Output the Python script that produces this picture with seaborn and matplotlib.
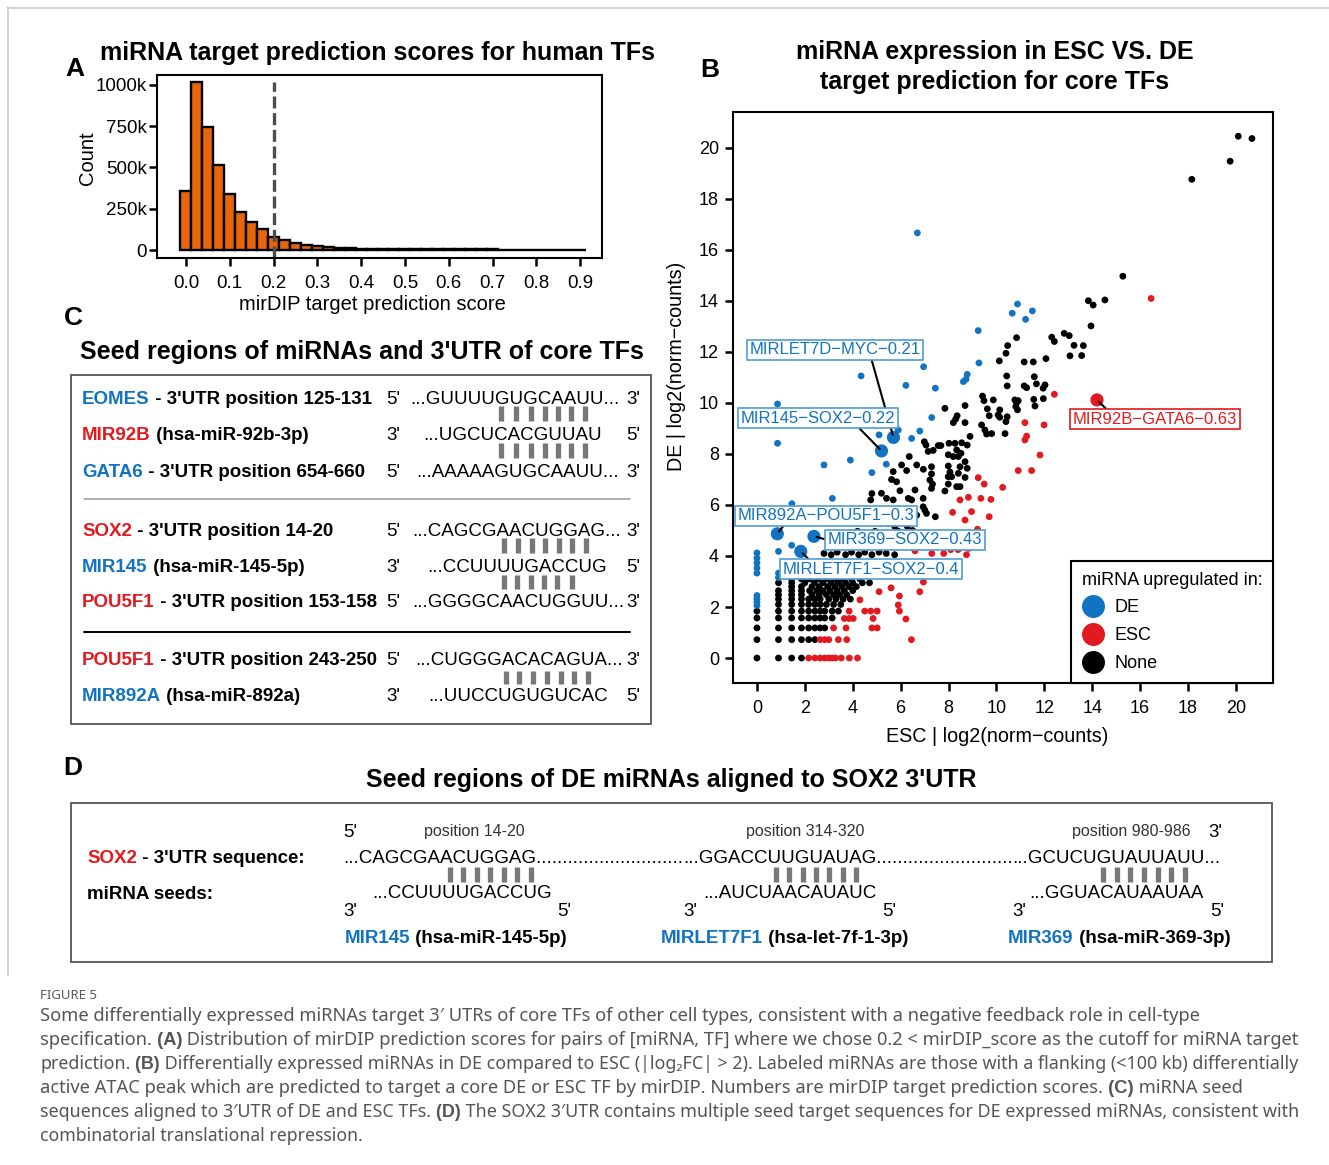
"""
Figure 5 redrawn on one canvas.

Panels:
1. A - histogram of mirDIP target prediction scores
2. B - miRNA expression, ESC vs DE, coloured by where the miRNA is up
3. C/D - seed alignments written as text
4. Caption below the panels
"""

import numpy as np
import pandas as pd
import matplotlib
matplotlib.use("Agg")
import matplotlib.pyplot as plt
from matplotlib.lines import Line2D
from matplotlib.patches import Rectangle
import seaborn as sns

# Canvas size in pixels (saved at dpi 100)
W, H = 1329, 1165

BLUE = "#1273C3"
BLUE_EDGE = "#4F9DD8"
RED = "#E2191E"
ORANGE = "#E8650A"
FONT = ["Liberation Sans", "DejaVu Sans"]
CAPTION_FONT = ["Noto Sans", "DejaVu Sans"]
CAPTION_BOLD_FONT = ["Liberation Sans Narrow", "Liberation Sans", "DejaVu Sans"]

# ---------------------------------------------------------------------------
# Panel A: mirDIP score distribution (bin centres, counts in thousands)
SCORE_BINS = [0.000, 0.025, 0.050, 0.075, 0.100, 0.125, 0.150, 0.175, 0.200,
              0.225, 0.250, 0.275, 0.300, 0.325, 0.350, 0.375, 0.400, 0.425,
              0.450, 0.475, 0.500, 0.525, 0.550, 0.575, 0.600, 0.625, 0.650,
              0.675, 0.700, 0.725, 0.750, 0.775, 0.800, 0.825, 0.850, 0.875,
              0.900]
SCORE_COUNTS_K = [355, 1020, 745, 515, 338, 232, 172, 128, 82, 58, 42, 30, 22,
                  17, 13, 10, 8, 7, 6, 6, 5, 5, 5, 4, 4, 4, 4, 4, 4, 3, 3, 2,
                  2, 2, 2, 1, 1]
SCORE_CUTOFF = 0.2
A_XTICKS = [0.0, 0.1, 0.2, 0.3, 0.4, 0.5, 0.6, 0.7, 0.8, 0.9]
A_YTICKS = [0, 250000, 500000, 750000, 1000000]
A_YTICK_LABELS = ["0", "250k", "500k", "750k", "1000k"]

# ---------------------------------------------------------------------------
# Panel B: (ESC, DE) log2 normalised counts for each miRNA
DE_UP = [
    (0, 4.12), (0, 3.92), (0, 3.73), (0, 3.53), (0, 3.33), (0, 2.45),
    (0, 2.32), (0, 2.19), (0, 2.06), (0.9, 4.18), (0.9, 3.33), (0.9, 3.15),
    (1.45, 4.42), (1.46, 6.05), (0.86, 8.42), (0.86, 9.96), (2.8, 7.57),
    (3.9, 7.76), (4.8, 7.27), (3.15, 6.26), (5.4, 7.6), (5.1, 8.75),
    (5.9, 8.94), (6.46, 8.61), (6.8, 8.9), (7.3, 9.43), (6.22, 10.69),
    (7.45, 10.58), (6.96, 11.42), (4.35, 11.06), (9.27, 11.57),
    (8.78, 11.12), (8.73, 10.93), (8.62, 10.84), (9.24, 12.84),
    (10.88, 13.88), (10.66, 13.52), (11.5, 13.61), (11.22, 13.28),
    (6.7, 16.67),
]
ESC_UP = [
    (2.16, 0), (2.42, 0), (2.64, 0), (2.83, 0), (3.0, 0), (3.14, 0),
    (3.28, 0), (3.52, 0), (3.86, 0), (4.2, 0),
    (2.64, 0.72), (2.83, 0.72), (3.0, 0.72), (3.4, 0.72), (3.75, 0.72),
    (6.45, 0.72), (3.2, 1.18), (3.72, 1.18), (4.8, 1.18), (5.02, 1.18),
    (3.65, 1.55), (3.85, 1.55), (4.02, 1.55), (4.85, 1.55), (6.22, 1.53),
    (3.85, 1.84), (4.5, 1.84), (4.75, 1.84), (5.02, 1.84), (5.95, 1.84),
    (4.3, 2.28), (5.9, 2.08), (5.1, 2.6), (5.6, 2.75), (5.95, 2.43),
    (6.8, 2.6), (6.95, 2.98), (6.6, 4.2), (7.3, 4.1), (7.8, 4.1),
    (8.1, 4.25), (8.4, 4.25), (8.75, 4.05), (8.85, 4.3), (8.17, 5.71),
    (8.96, 5.74), (8.69, 5.41), (9.7, 5.54), (9.21, 5.05), (8.48, 6.2),
    (8.83, 6.3), (9.35, 6.26), (9.77, 6.22), (9.24, 7.07), (9.49, 6.82),
    (10.26, 6.69), (10.91, 7.35), (11.47, 7.35), (11.82, 7.96),
    (11.26, 8.7), (11.19, 8.55), (11.19, 9.23), (11.99, 9.14),
    (12.42, 10.34), (16.46, 14.1),
]
NONE_LOW = [
    (0, 0), (0.9, 0), (1.45, 0), (1.86, 0),
    (0, 0.72), (0.9, 0.72), (1.45, 0.72), (1.86, 0.72), (2.16, 0.72),
    (2.42, 0.72),
    (0, 1.18), (0.9, 1.18), (1.45, 1.18), (1.86, 1.18), (2.16, 1.18),
    (2.42, 1.18), (2.64, 1.18), (2.83, 1.18),
    (0, 1.57), (0.9, 1.57), (1.45, 1.57), (1.86, 1.57), (2.16, 1.57),
    (2.42, 1.57), (2.64, 1.57), (2.83, 1.57), (3.14, 1.57),
    (0, 1.84), (0.9, 1.84), (1.45, 1.84), (1.86, 1.84), (2.16, 1.84),
    (2.42, 1.84), (2.64, 1.84), (2.83, 1.84), (3.14, 1.84), (3.4, 1.84),
    (0.9, 2.1), (1.45, 2.1), (1.86, 2.1), (2.16, 2.1), (2.42, 2.1),
    (2.64, 2.1), (2.9, 2.1), (3.2, 2.1), (3.5, 2.1),
    (0.9, 2.31), (1.45, 2.31), (1.86, 2.31), (2.16, 2.31), (2.42, 2.31),
    (2.64, 2.31), (3.0, 2.31), (3.3, 2.31), (3.6, 2.31), (3.9, 2.31),
    (0.9, 2.48), (1.45, 2.48), (1.86, 2.48), (2.3, 2.48), (2.6, 2.48),
    (2.9, 2.48), (3.2, 2.48), (3.45, 2.48), (3.75, 2.48),
    (0.9, 2.64), (1.45, 2.64), (1.86, 2.64), (2.2, 2.64), (2.5, 2.64),
    (2.75, 2.64), (3.05, 2.64), (3.35, 2.64), (3.65, 2.64), (4.0, 2.64),
    (1.45, 2.8), (1.86, 2.8), (2.3, 2.8), (2.6, 2.8), (2.95, 2.8),
    (3.25, 2.8), (3.55, 2.8), (3.85, 2.8), (4.15, 2.8),
    (0.9, 2.95), (1.45, 2.95), (2.0, 2.95), (2.4, 2.95), (2.75, 2.95),
    (3.1, 2.95), (3.4, 2.95), (3.7, 2.95), (4.0, 2.95), (4.4, 2.95),
    (4.7, 2.95),
    (1.45, 3.1), (1.86, 3.1), (2.2, 3.1), (2.55, 3.1), (2.9, 3.1),
    (3.3, 3.1), (3.6, 3.1), (3.95, 3.1), (4.3, 3.1),
    (1.45, 3.3), (1.86, 3.3), (2.3, 3.3), (2.7, 3.3), (3.05, 3.3),
    (3.45, 3.3), (3.85, 3.3),
    (1.45, 3.5), (2.0, 3.5), (2.5, 3.5), (2.9, 3.5), (3.3, 3.5),
    (3.7, 3.5), (4.1, 3.5),
    (2.8, 4.1), (3.1, 4.05), (3.35, 4.15), (3.7, 4.05), (3.95, 4.15),
    (4.25, 4.05), (4.5, 4.15), (4.8, 4.05), (5.1, 4.15), (5.4, 4.1), (5.75, 4.05),
]
NONE_MID = [
    (4.8, 6.45), (4.75, 6.2), (4.93, 5.41), (5.14, 5.28), (5.38, 5.42),
    (5.48, 5.28), (5.76, 5.15), (5.98, 5.36), (6.28, 5.16), (6.13, 4.9),
    (3.9, 4.9), (4.2, 4.97), (4.48, 4.84), (4.93, 4.97), (5.38, 4.77),
    (5.9, 4.97), (7.08, 5.67), (7.45, 5.54), (6.67, 5.6), (6.5, 5.0),
    (3.3, 4.6), (3.7, 4.55), (4.1, 4.5), (4.6, 4.55), (5.0, 4.6),
]
NONE_HIGH = [
    (13.84, 14.01), (14.04, 13.84), (14.53, 14.04), (13.95, 13.02),
    (12.31, 12.58), (12.42, 12.41), (12.83, 12.73), (13.04, 12.64),
    (10.84, 12.56), (10.47, 12.25), (10.4, 11.95), (10.12, 11.65),
    (11.16, 11.61), (11.54, 11.61), (12.07, 11.74), (13.24, 12.26),
    (13.63, 12.25), (13.07, 11.85), (13.56, 11.86), (10.43, 11.06),
    (11.58, 11.03), (10.45, 10.67), (11.16, 10.67), (11.26, 10.6),
    (11.67, 10.75), (11.95, 10.58), (12.03, 10.71), (9.42, 10.27),
    (9.48, 10.09), (9.87, 10.12), (10.77, 10.12), (10.91, 10.09),
    (10.84, 10.01), (11.56, 10.14), (11.61, 9.88), (11.96, 10.17),
    (8.69, 9.9), (9.62, 9.77), (10.14, 9.73), (10.07, 9.53), (10.14, 9.44),
    (10.81, 9.86), (10.88, 9.73), (10.45, 9.46), (10.4, 9.27), (9.7, 9.5),
    (8.36, 9.5), (8.3, 9.37), (8.2, 9.23), (7.85, 9.79), (8.69, 9.23),
    (9.38, 9.14), (9.52, 8.94), (9.59, 8.78), (9.8, 8.8), (10.36, 8.8),
    (8.9, 8.69), (8.55, 8.44), (6.99, 8.48), (7.06, 8.35), (7.57, 8.33),
    (7.68, 8.33), (8.02, 8.42), (8.27, 8.42), (8.34, 8.16), (8.52, 8.03),
    (8.41, 7.9), (8.69, 7.7), (8.78, 8.35), (7.99, 7.97), (8.2, 7.9),
    (7.15, 8.1), (7.36, 8.14), (6.36, 7.9), (6.67, 7.57), (6.04, 7.57),
    (5.69, 7.31), (6.25, 7.35), (6.95, 7.4), (7.29, 7.5), (7.29, 7.22),
    (7.22, 6.98), (7.33, 6.82), (7.29, 6.65), (7.99, 7.53), (8.06, 7.29),
    (8.48, 7.5), (8.78, 7.44), (7.99, 7.11), (8.13, 7.11), (8.41, 7.24),
    (8.69, 7.08), (7.99, 6.82), (8.34, 6.72), (8.48, 6.72), (7.85, 6.55),
    (5.62, 7.0), (5.83, 6.91), (5.97, 6.56), (6.6, 6.59), (5.2, 6.46),
    (5.41, 6.26), (5.69, 6.2), (6.32, 6.26), (6.46, 6.2), (6.94, 6.26),
    (6.94, 5.93), (7.01, 5.8), (15.28, 14.97), (18.16, 18.77),
    (19.76, 19.48), (20.1, 20.46), (20.67, 20.37),
]
LABEL_NAMES = ["MIRLET7D−MYC−0.21", "MIR145−SOX2−0.22", "MIR92B−GATA6−0.63",
               "MIR892A−POU5F1−0.3", "MIR369−SOX2−0.43", "MIRLET7F1−SOX2−0.4"]
LABEL_ESC = [5.7, 5.2, 14.2, 0.85, 2.38, 1.83]
LABEL_DE = [8.65, 8.12, 10.12, 4.87, 4.77, 4.18]
LABEL_GROUP = ["DE", "DE", "ESC", "DE", "DE", "DE"]
B_TICKS = [0, 2, 4, 6, 8, 10, 12, 14, 16, 18, 20]
LEGEND_GROUPS = ["DE", "ESC", "None"]
PALETTE = {"DE": BLUE, "ESC": RED, "None": "black"}

# ---------------------------------------------------------------------------
# Panel C: (gene, colour, description, left end, sequence, right end)
C_ROWS = [
    ("EOMES", BLUE, " - 3'UTR position 125-131", "5'", "...GUUUUGUGCAAUU...", "3'"),
    ("MIR92B", RED, " (hsa-miR-92b-3p)", "3'", "...UGCUCACGUUAU", "5'"),
    ("GATA6", BLUE, " - 3'UTR position 654-660", "5'", "...AAAAAGUGCAAUU...", "3'"),
    ("SOX2", RED, " - 3'UTR position 14-20", "5'", "...CAGCGAACUGGAG...", "3'"),
    ("MIR145", BLUE, " (hsa-miR-145-5p)", "3'", "...CCUUUUGACCUG", "5'"),
    ("POU5F1", RED, " - 3'UTR position 153-158", "5'", "...GGGGCAACUGGUU...", "3'"),
    ("POU5F1", RED, " - 3'UTR position 243-250", "5'", "...CUGGGACACAGUA...", "3'"),
    ("MIR892A", BLUE, " (hsa-miR-892a)", "3'", "...UUCCUGUGUCAC", "5'"),
]

# Panel D: SOX2 3'UTR pieces, miRNA seeds and names
D_UTR = ["...CAGCGAACUGGAG" + "." * 28, "...GGACCUUGUAUAG" + "." * 26,
         "...GCUCUGUAUUAUU..."]
D_POSITIONS = ["position 14-20", "position 314-320", "position 980-986"]
D_SEEDS = ["...CCUUUUGACCUG", "...AUCUAACAUAUC", "...GGUACAUAAUAA"]
D_MIRNAS = ["MIR145", "MIRLET7F1", "MIR369"]
D_MATURE = [" (hsa-miR-145-5p)", " (hsa-let-7f-1-3p)", " (hsa-miR-369-3p)"]

CAPTION = [
    [("Some differentially expressed miRNAs target 3′ UTRs of core TFs of other "
      "cell types, consistent with a negative feedback role in cell-type", "normal")],
    [("specification.", "normal"), (" (A)", "bold"),
     (" Distribution of mirDIP prediction scores for pairs of [miRNA, TF] where we "
      "chose 0.2 < mirDIP_score as the cutoff for miRNA target", "normal")],
    [("prediction.", "normal"), (" (B)", "bold"),
     (" Differentially expressed miRNAs in DE compared to ESC (|log₂FC| > 2). "
      "Labeled miRNAs are those with a flanking (<100 kb) differentially", "normal")],
    [("active ATAC peak which are predicted to target a core DE or ESC TF by mirDIP. "
      "Numbers are mirDIP target prediction scores.", "normal"), (" (C)", "bold"),
     (" miRNA seed", "normal")],
    [("sequences aligned to 3′UTR of DE and ESC TFs.", "normal"), (" (D)", "bold"),
     (" The SOX2 3′UTR contains multiple seed target sequences for DE expressed "
      "miRNAs, consistent with", "normal")],
    [("combinatorial translational repression.", "normal")],
]
# right edge (px) each caption line reaches in the figure
CAPTION_RIGHT = [1208, 1298, 1298, 1254, 1298, 362]


def axes_px(fig, left, top, right, bottom):
    """Add an axes given its box in pixels measured from the top-left."""
    return fig.add_axes([left / W, 1 - bottom / H, (right - left) / W, (bottom - top) / H])


def style_box(ax, labelsize, xpad, ypad):
    for sp in ax.spines.values():
        sp.set_visible(True)
        sp.set_linewidth(1.5)
        sp.set_color("black")
    ax.tick_params(direction="out", length=6, width=1.8, color="black",
                   labelsize=labelsize, labelcolor="black", top=False, right=False)
    ax.tick_params(axis="x", pad=xpad)
    ax.tick_params(axis="y", pad=ypad)
    ax.set_xlabel("")
    ax.set_ylabel("")
    for t in ax.get_xticklabels() + ax.get_yticklabels():
        t.set_family(FONT)


def rich_text(ax, x, y, parts, size, family=FONT, bold_family=None):
    """Write coloured / bold pieces one after another on the same baseline."""
    artists = []
    prev = None
    for s, color, weight in parts:
        fam = bold_family if (bold_family and weight == "bold") else family
        kw = dict(color=color, fontsize=size, fontweight=weight, family=fam, ha="left")
        if prev is None:
            prev = ax.text(x, y, s, va="baseline", **kw)
        else:
            prev = ax.annotate(s, xy=(1, 0), xycoords=prev, va="bottom", **kw)
        artists.append(prev)
    return artists


def bars(ax, xs, y0, y1):
    for x in xs:
        ax.plot([x, x], [y0, y1], color="#777777", lw=3.8, solid_capstyle="butt")


def panel_a(fig, bg):
    ax = axes_px(fig, 157, 75, 602, 258)
    hist = pd.DataFrame({"score": SCORE_BINS,
                         "count": np.array(SCORE_COUNTS_K) * 1000})
    edges = np.linspace(-0.0125, 0.9125, 38).tolist()
    sns.histplot(data=hist, x="score", weights="count", bins=edges,
                 color=ORANGE, edgecolor="black", linewidth=1.7, alpha=1, ax=ax)
    ax.axvline(SCORE_CUTOFF, ymin=0, ymax=0.96, color="#4d4d4d", lw=2.4,
               dashes=(3.6, 1.4))
    ax.set_xlim(-0.066, 0.95)
    ax.set_ylim(-48000, 1060000)
    ax.set_xticks(A_XTICKS)
    ax.set_xticklabels([f"{v:.1f}" for v in A_XTICKS])
    ax.set_yticks(A_YTICKS)
    ax.set_yticklabels(A_YTICK_LABELS)
    style_box(ax, 13.5, 6, 1.5)

    bg.text(75, 69, "A", fontsize=19, fontweight="bold", ha="center", va="center", family=FONT)
    bg.text(378, 53, "miRNA target prediction scores for human TFs", fontsize=18,
            fontweight="bold", ha="center", va="center", family=FONT)
    bg.text(88, 158, "Count", fontsize=14.5, rotation=90, ha="center", va="center", family=FONT)
    bg.text(372, 305, "mirDIP target prediction score", fontsize=14.5, ha="center",
            va="center", family=FONT)


def panel_b(fig, bg):
    ax = axes_px(fig, 733, 112, 1273, 683)
    frames = []
    for group, points in [("None", NONE_LOW + NONE_MID + NONE_HIGH),
                          ("ESC", ESC_UP), ("DE", DE_UP)]:
        frames.append(pd.DataFrame(points, columns=["esc", "de"]).assign(group=group))
    df = pd.concat(frames, ignore_index=True)
    sns.scatterplot(data=df, x="esc", y="de", hue="group", palette=PALETTE, s=24,
                    linewidth=0, legend=False, ax=ax)

    lab = pd.DataFrame({"esc": LABEL_ESC, "de": LABEL_DE, "group": LABEL_GROUP})
    sns.scatterplot(data=lab, x="esc", y="de", hue="group", palette=PALETTE, s=90,
                    linewidth=0, legend=False, ax=ax)

    # where each label box sits (data coords) and where its leader leaves the box
    layout = [((3.26, 12.08), (0.71, 0)), ((2.55, 9.41), (0.75, 0)),
              ((16.62, 9.37), (0.22, 1)), ((2.88, 5.57), (0.27, 0)),
              ((6.18, 4.63), (0, 0.5)), ((4.76, 3.49), (0.16, 1))]
    for name, x, y, g, (pos, rel) in zip(LABEL_NAMES, LABEL_ESC, LABEL_DE, LABEL_GROUP, layout):
        color = BLUE if g == "DE" else RED
        edge = BLUE_EDGE if g == "DE" else RED
        ax.annotate(name, xy=(x, y), xytext=pos, textcoords="data", ha="center",
                    va="center", fontsize=12, color=color, family=FONT, zorder=5,
                    bbox=dict(boxstyle="square,pad=0.15", fc="white", ec=edge, lw=1.2),
                    arrowprops=dict(arrowstyle="-", color="black", lw=1.5,
                                    shrinkA=0, shrinkB=2, relpos=rel))

    ax.set_xlim(-1.0, 21.55)
    ax.set_ylim(-0.98, 21.41)
    ax.set_xticks(B_TICKS)
    ax.set_yticks(B_TICKS)
    style_box(ax, 13, 6, 4)

    handles = [Line2D([0], [0], marker="o", ls="none", markersize=15.5,
                      markerfacecolor=PALETTE[g], markeredgecolor=PALETTE[g])
               for g in LEGEND_GROUPS]
    leg = ax.legend(handles, LEGEND_GROUPS, title="miRNA upregulated in:",
                    loc="lower right", bbox_to_anchor=(1, 0), borderaxespad=0,
                    frameon=True, fancybox=False, edgecolor="black", framealpha=1,
                    title_fontsize=13, alignment="left",
                    handletextpad=0.5, labelspacing=0.6, borderpad=0.6,
                    handlelength=1.3, prop={"family": FONT, "size": 13})
    leg.get_frame().set_linewidth(1.5)
    leg.get_title().set_family(FONT)
    leg.set_zorder(6)

    bg.text(710, 70, "B", fontsize=19, fontweight="bold", ha="center", va="center", family=FONT)
    bg.text(995, 52, "miRNA expression in ESC VS. DE", fontsize=18, fontweight="bold",
            ha="center", va="center", family=FONT)
    bg.text(995, 82, "target prediction for core TFs", fontsize=18, fontweight="bold",
            ha="center", va="center", family=FONT)
    bg.text(677, 366, "DE | log2(norm−counts)", fontsize=14.2, rotation=90,
            ha="center", va="center", family=FONT)
    bg.text(997, 736, "ESC | log2(norm−counts)", fontsize=14.2, ha="center",
            va="center", family=FONT)


def panel_c(bg):
    bg.text(73, 318, "C", fontsize=19, fontweight="bold", ha="center", va="center", family=FONT)
    bg.text(362, 352, "Seed regions of miRNAs and 3'UTR of core TFs", fontsize=18,
            fontweight="bold", ha="center", va="center", family=FONT)
    bg.add_patch(Rectangle((71, 375), 580, 349, fill=False, ec="#555555", lw=1.3))

    row_y = [397, 433, 470, 529, 565, 600, 658, 694]
    seq_x = [410, 423, 416, 412, 427, 412, 415, 428]
    for (gene, color, desc, left, seq, right), y, sx in zip(C_ROWS, row_y, seq_x):
        base = y + 7
        rich_text(bg, 82, base, [(gene, color, "bold"), (desc, "black", "bold")], 13.5)
        bg.text(386, base, left, fontsize=13.5, family=FONT, ha="left", va="baseline")
        bg.text(sx, base, seq, fontsize=13.5, family=FONT, ha="left", va="baseline")
        bg.text(626, base, right, fontsize=13.5, family=FONT, ha="left", va="baseline")

    bars(bg, [501, 516, 531, 545, 558, 571, 585], 406, 421)
    bars(bg, [501, 516, 531, 545, 558, 571, 585], 443, 458)
    bars(bg, [504, 518, 532, 545, 559, 572, 586], 538, 553)
    bars(bg, [504, 517, 531, 544, 557, 572], 575, 589)
    bars(bg, [506, 519, 533, 547, 561, 574, 588], 671, 684)
    bg.plot([84, 630], [499, 499], color="#9a9a9a", lw=1.1)
    bg.plot([84, 630], [632, 632], color="black", lw=1.4)


def panel_d(bg):
    bg.text(73, 768, "D", fontsize=19, fontweight="bold", ha="center", va="center", family=FONT)
    bg.text(671, 780, "Seed regions of DE miRNAs aligned to SOX2 3'UTR", fontsize=18,
            fontweight="bold", ha="center", va="center", family=FONT)
    bg.add_patch(Rectangle((71, 803), 1201, 159, fill=False, ec="#555555", lw=1.3))

    txt = dict(fontsize=13.5, family=FONT, ha="left", va="baseline")
    bg.text(343, 837, "5'", **txt)
    bg.text(1208, 837, "3'", **txt)
    for cx, label in zip([474, 805, 1131], D_POSITIONS):
        bg.text(cx, 836, label, fontsize=11.5, family=FONT, color="#333333",
                ha="center", va="baseline")

    rich_text(bg, 87, 863, [("SOX2", RED, "bold"), (" - 3'UTR sequence:", "black", "bold")], 13.5)
    for x, piece in zip([343, 683, 1012], D_UTR):
        bg.text(x, 863, piece, **txt)

    bars(bg, [450, 463, 477, 490, 504, 517, 531], 867, 882)
    bars(bg, [776, 789, 803, 816, 829, 843, 856], 867, 882)
    bars(bg, [1103, 1117, 1130, 1144, 1158, 1171, 1185], 867, 882)

    bg.text(87, 899, "miRNA seeds:", fontsize=13.5, fontweight="bold", family=FONT,
            ha="left", va="baseline")
    for x, seed in zip([372, 703, 1029], D_SEEDS):
        bg.text(x, 898, seed, **txt)
    for x3, x5 in [(343, 557), (683, 882), (1012, 1210)]:
        bg.text(x3, 916, "3'", **txt)
        bg.text(x5, 916, "5'", **txt)
    for x, mir, mature in zip([345, 661, 1008], D_MIRNAS, D_MATURE):
        rich_text(bg, x, 943, [(mir, BLUE, "bold"), (mature, "black", "bold")], 13.5)


def caption(fig, bg):
    bg.text(40, 999, "FIGURE 5", fontsize=9.5, color="#5a5a5a", family=CAPTION_FONT,
            ha="left", va="baseline")
    lines = []
    for i, parts in enumerate(CAPTION):
        y = 1021 + 24 * i
        lines.append(rich_text(bg, 40, y, [(s, "#555555", w) for s, w in parts], 12,
                               family=CAPTION_FONT, bold_family=CAPTION_BOLD_FONT))
    # scale every caption line so it ends where the figure's line ends
    fig.canvas.draw()
    r = fig.canvas.get_renderer()
    for line, right in zip(lines, CAPTION_RIGHT):
        x0 = line[0].get_window_extent(r).x0
        x1 = line[-1].get_window_extent(r).x1
        factor = (right - 40) / (x1 - x0)
        factor = min(max(factor, 0.9), 1.1)
        for t in line:
            t.set_fontsize(t.get_fontsize() * factor)


def main():
    sns.set_theme(style="ticks")
    plt.rcParams["font.family"] = FONT
    plt.rcParams["text.color"] = "black"

    fig = plt.figure(figsize=(W / 100, H / 100), dpi=100)
    fig.patch.set_facecolor("white")

    bg = fig.add_axes([0, 0, 1, 1])
    bg.set_xlim(0, W)
    bg.set_ylim(H, 0)
    bg.axis("off")
    # thin frame of the figure sheet
    bg.plot([7, W], [7.5, 7.5], color="#cfcfcf", lw=1.3)
    bg.plot([7.5, 7.5], [7, 975], color="#cfcfcf", lw=1.3)

    panel_a(fig, bg)
    panel_b(fig, bg)
    panel_c(bg)
    panel_d(bg)
    caption(fig, bg)

    fig.savefig("out.png", dpi=100)
    plt.close(fig)


if __name__ == "__main__":
    main()
